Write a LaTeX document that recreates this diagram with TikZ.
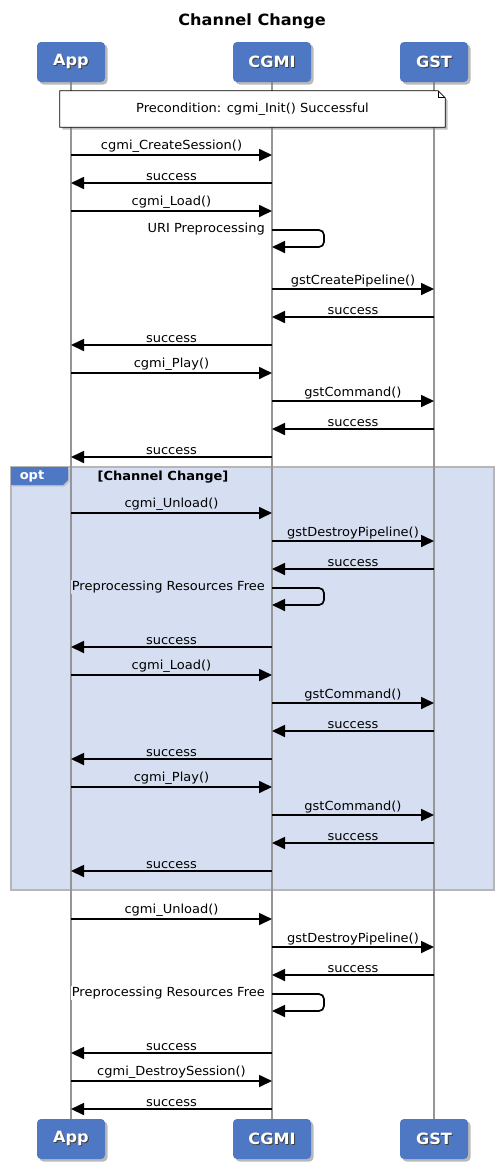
\documentclass[tikz,border=0pt]{standalone}
\usepackage{fontspec}
\setmainfont{DejaVu Sans}[FakeStretch=1.04]
\usetikzlibrary{arrows.meta,shadows,backgrounds}

\definecolor{actorblue}{RGB}{79,120,196}
\definecolor{optfill}{RGB}{214,223,241}
\definecolor{framegray}{RGB}{182,182,182}
\definecolor{lifegray}{RGB}{150,150,150}

\newcommand{\actortext}[1]{\rlap{\hspace{1pt}\raisebox{-1pt}{\color{black!75}#1}}#1}

\tikzset{
  actor/.style={fill=actorblue, rounded corners=4pt, minimum height=40pt, text=white,
    font=\bfseries\fontsize{15.5}{17}\selectfont,
    drop shadow={shadow xshift=2.5pt, shadow yshift=-2.5pt, opacity=0.55}},
  lifeline/.style={lifegray, line width=1.6pt},
  msg/.style={line width=1.7pt, -{Triangle[length=13pt,width=12pt]}},
  lbl/.style={font=\fontsize{12.5}{14}\selectfont, inner sep=1.5pt},
  selflbl/.style={lbl, anchor=east, inner sep=1pt}
}

\begin{document}
\begin{tikzpicture}[x=1pt,y=-1pt]
\useasboundingbox (0,0) rectangle (503,1168);
\node[font=\bfseries\fontsize{15.5}{17}\selectfont] (title) at (252,21) {Channel Change};
% participants
\node[actor, minimum width=68pt] (app) at (71,62) {\actortext{App}};
\node[actor, minimum width=78pt] (cgmi) at (272,62) {\actortext{CGMI}};
\node[actor, minimum width=68pt] (gst) at (434,62) {\actortext{GST}};
\node[actor, minimum width=68pt] (appbot) at (71,1139) {\actortext{App}};
\node[actor, minimum width=78pt] (cgmibot) at (272,1139) {\actortext{CGMI}};
\node[actor, minimum width=68pt] (gstbot) at (434,1139) {\actortext{GST}};
\begin{scope}[on background layer]
\draw[framegray, line width=1.6pt, fill=optfill] (11,467) rectangle (494,890);
\draw[lifeline] (app.south) -- (appbot.north); \draw[lifeline] (cgmi.south) -- (cgmibot.north); \draw[lifeline] (gst.south) -- (gstbot.north);
\end{scope}
% precondition note
\node[minimum width=385pt, minimum height=36pt, font=\fontsize{12.5}{14}\selectfont] (pre) at (252.5,109) {Precondition: cgmi\_Init() Successful};
\begin{scope}[on background layer]
\path[fill=white, drop shadow={shadow xshift=2.5pt, shadow yshift=-2.5pt, opacity=0.5}] (pre.south west) -- (pre.north west) -- ([xshift=-7pt]pre.north east) -- ([yshift=-7pt]pre.north east) -- (pre.south east) -- cycle;
\end{scope}
\draw[line width=0.8pt] (pre.south west) -- (pre.north west) -- ([xshift=-7pt]pre.north east) -- ([yshift=-7pt]pre.north east) -- (pre.south east) -- cycle;
\draw[line width=0.8pt] ([xshift=-7pt]pre.north east) |- ([yshift=-7pt]pre.north east);
% opt frame tag
\fill[actorblue, drop shadow={shadow xshift=1.5pt, shadow yshift=-1.5pt, opacity=0.3}] (11,467) -- (68,467) -- (68,480) -- (63,485) -- (11,485) -- cycle;
\node[text=white, font=\bfseries\fontsize{12.5}{14}\selectfont] (opttag) at (32,476) {opt};
\node[font=\bfseries\fontsize{12.5}{14}\selectfont] (optcond) at (163,477) {[Channel Change]};
% messages
\foreach \y/\a/\b/\t in {155/app/cgmi/{cgmi\_CreateSession()}, 183/cgmi/app/success, 211/app/cgmi/{cgmi\_Load()},
  289/cgmi/gst/{gstCreatePipeline()}, 317/gst/cgmi/success, 345/cgmi/app/success, 373/app/cgmi/{cgmi\_Play()},
  401/cgmi/gst/{gstCommand()}, 429/gst/cgmi/success, 457/cgmi/app/success,
  513/app/cgmi/{cgmi\_Unload()}, 541/cgmi/gst/{gstDestroyPipeline()}, 569/gst/cgmi/success, 647/cgmi/app/success,
  675/app/cgmi/{cgmi\_Load()}, 703/cgmi/gst/{gstCommand()}, 731/gst/cgmi/success, 759/cgmi/app/success,
  787/app/cgmi/{cgmi\_Play()}, 815/cgmi/gst/{gstCommand()}, 843/gst/cgmi/success, 871/cgmi/app/success,
  919/app/cgmi/{cgmi\_Unload()}, 947/cgmi/gst/{gstDestroyPipeline()}, 975/gst/cgmi/success, 1053/cgmi/app/success,
  1081/app/cgmi/{cgmi\_DestroySession()}, 1109/cgmi/app/success}
  { \draw[msg] (\a |- 0,\y) -- (\b |- 0,\y) node[lbl, midway, above] {\t}; };
% self messages
\foreach \y/\f/\t in {230/white/{URI Preprocessing}, 588/optfill/{Preprocessing Resources Free}, 994/white/{Preprocessing Resources Free}}
  { \draw[msg, rounded corners=5pt] (cgmi |- 0,\y) -- ++(52,0) -- ++(0,17) -- (cgmi |- 0,\y+17);
    \node[selflbl, fill=\f] at ([xshift=-6pt]cgmi |- 0,\y-1) {\t}; };
\end{tikzpicture}
\end{document}
